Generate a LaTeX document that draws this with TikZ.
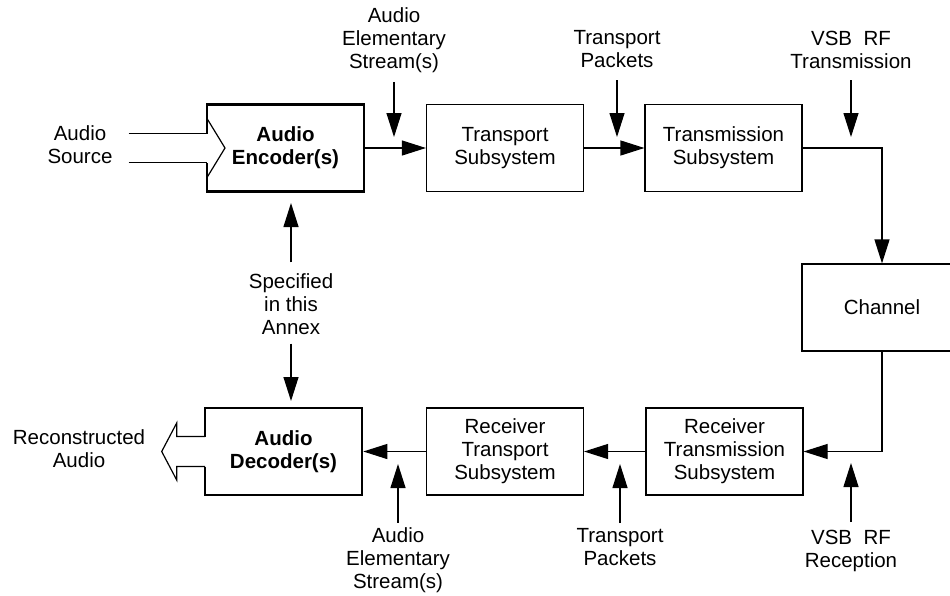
\documentclass[tikz,border=0pt]{standalone}
\usepackage{fontspec}
\setmainfont{Liberation Sans}
\usetikzlibrary{arrows.meta,calc}
\tikzset{
    every node/.style={align=center,font=\fontsize{20.5}{23}\selectfont,},
    block/.style={draw,rectangle,line width=1.2pt,minimum width=157pt,minimum height=87pt,inner sep=0pt,},
    codec/.style={block,line width=2.6pt,font=\fontsize{20.5}{23}\selectfont\bfseries,},
    caption/.style={inner sep=0pt,},
    arr/.style={line width=1.2pt,-{Triangle[length=24pt,width=15pt]},},
    plain/.style={line width=1.2pt,},
}

\begin{document}
\begin{tikzpicture}[x=1pt,y=-1pt]
        \useasboundingbox (0,0) rectangle (950,595);

        \node[codec] (encoder) at (285.5,148) {Audio\\Encoder(s)};
        \node[block] (transport) at (505,148) {Transport\\Subsystem};
        \node[block] (transmission) at (723.5,148) {Transmission\\Subsystem};

        \node[block,minimum width=160pt] (channel) at (882,307.5) {Channel};

        \node[block] (rx_transmission) at (724.5,451.5) {Receiver\\Transmission\\Subsystem};
        \node[block] (rx_transport) at (505,451.5) {Receiver\\Transport\\Subsystem};
        \node[codec] (decoder) at (283.5,451.5) {Audio\\Decoder(s)};

        \node[caption] (source) at (80,145) {Audio\\Source};
        \node[caption] (es_in) at (394,40) {Audio\\Elementary\\Stream(s)};
        \node[caption] (packets_in) at (617,49.5) {Transport\\Packets};
        \node[caption] (vsb_tx) at (851,49.5) {VSB\ \ RF\\Transmission};
        \node[caption] (annex) at (291,304) {Specified\\in this\\Annex};
        \node[caption] (recon) at (79,449) {Reconstructed\\Audio};
        \node[caption] (es_out) at (398,560.5) {Audio\\Elementary\\Stream(s)};
        \node[caption] (packets_out) at (620,547) {Transport\\Packets};
        \node[caption] (vsb_rx) at (851,551) {VSB\ \ RF\\Reception};

        \coordinate (es_in_tip) at (394,137);
        \coordinate (packets_in_tip) at (617,137);
        \coordinate (vsb_tx_tip) at (851,137);
        \coordinate (annex_up) at (291,203);
        \coordinate (annex_down) at (291,401);
        \coordinate (es_out_tip) at (398,464);
        \coordinate (packets_out_tip) at (620,464);
        \coordinate (vsb_rx_tip) at (851,463);

        % main chain
        \draw[arr] (encoder) -- (transport);
        \draw[arr] (transport) -- (transmission);
        \draw[arr] (transmission.east) -| (channel.north);
        \draw[arr] (channel.south) |- (rx_transmission.east);
        \draw[arr] (rx_transmission) -- (rx_transport);
        \draw[arr] (rx_transport) -- (decoder);

        % side inputs
        \draw[arr,shorten <=9pt] (es_in) -- (es_in_tip);
        \draw[arr,shorten <=12pt] (packets_in) -- (packets_in_tip);
        \draw[arr,shorten <=12pt] (vsb_tx) -- (vsb_tx_tip);
        \draw[arr,shorten <=11pt] (annex) -- (annex_up);
        \draw[arr,shorten <=9pt] (annex) -- (annex_down);
        \draw[arr,shorten <=5pt] (es_out) -- (es_out_tip);
        \draw[arr,shorten <=5pt] (packets_out) -- (packets_out_tip);
        \draw[arr,shorten <=8pt] (vsb_rx) -- (vsb_rx_tip);

        % block arrow into the encoder
        \fill[white] ($(encoder.west)+(-0.5,-14.5)$) rectangle ($(encoder.west)+(3,14.5)$);
        \draw[plain] ($(encoder.west)+(-77,-14.5)$) -- ++(78.3,0);
        \draw[plain] ($(encoder.west)+(-77,14.5)$) -- ++(78.3,0);
        \draw[plain] ($(encoder.west)+(1.3,-29.5)$) -- ++(18,29.5) -- ++(-18,29.5);

        % block arrow out of the decoder
        \fill[white] ($(decoder.west)+(-0.5,-15)$) rectangle ($(decoder.west)+(3,15)$);
        \draw[plain] ($(decoder.west)+(1.3,-15)$) -- ++(-28.3,0) -- ++(0,-13.5)
            -- ++(-15,28.5) -- ++(15,28.5) -- ++(0,-13.5) -- ++(28.3,0);
    \end{tikzpicture}
\end{document}
